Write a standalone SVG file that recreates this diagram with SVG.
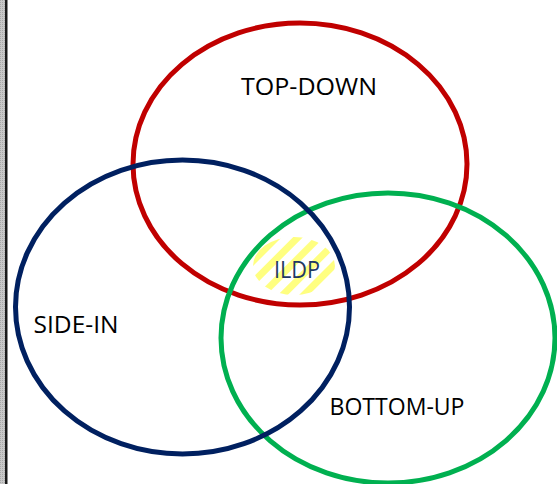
<svg xmlns="http://www.w3.org/2000/svg" width="557" height="484" viewBox="0 0 557 484">
<defs>
<pattern id="hatch" patternUnits="userSpaceOnUse" width="15" height="15" patternTransform="rotate(45)">
<rect x="0" y="0" width="7" height="15" fill="#ffff80"/>
</pattern>
<pattern id="dots" patternUnits="userSpaceOnUse" width="2" height="2">
<rect width="2" height="2" fill="#c8c8c8"/>
<rect width="1" height="1" fill="#a8a8a8"/>
</pattern>
</defs>
<style>
.ring{fill:none;stroke-width:5}
.lbl{font-family:"Open Sans","Noto Sans",sans-serif;font-size:24px;fill:#000}
</style>
<rect width="557" height="484" fill="#fff"/>
<rect x="0" y="0" width="5" height="484" fill="url(#dots)"/>
<rect x="5" y="0" width="2.5" height="484" fill="#1a1a1a"/>
<g id="ildp">
<ellipse cx="294" cy="266" rx="41" ry="29" fill="url(#hatch)"/>
<text x="297" y="278" text-anchor="middle" style="font-family:'Open Sans','Noto Sans',sans-serif;font-size:24px;fill:#1f3864" textLength="46" lengthAdjust="spacingAndGlyphs">ILDP</text>
</g>
<g id="connectors"></g>
<g id="top-down">
<ellipse class="ring" cx="300" cy="164" rx="167" ry="141" stroke="#c00000"/>
<text class="lbl" x="309" y="95" text-anchor="middle" textLength="136" lengthAdjust="spacingAndGlyphs">TOP-DOWN</text>
</g>
<g id="bottom-up">
<ellipse class="ring" cx="388" cy="338" rx="167" ry="145" stroke="#00b050"/>
<text class="lbl" x="397" y="415" text-anchor="middle" textLength="135" lengthAdjust="spacingAndGlyphs">BOTTOM-UP</text>
</g>
<g id="side-in">
<ellipse class="ring" cx="182.5" cy="307" rx="167" ry="147" stroke="#002060"/>
<text class="lbl" x="76" y="333" text-anchor="middle" textLength="85" lengthAdjust="spacingAndGlyphs">SIDE-IN</text>
</g>
</svg>
